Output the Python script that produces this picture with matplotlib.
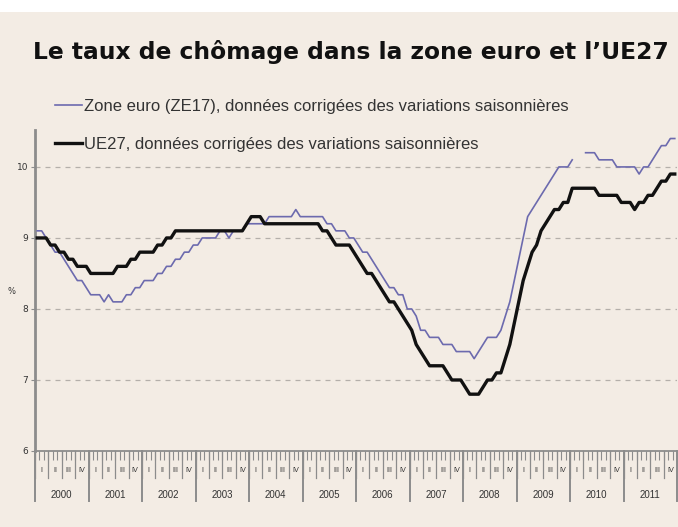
import numpy as np
import matplotlib
matplotlib.use("Agg")
import matplotlib.pyplot as plt
from matplotlib.patches import Rectangle
from matplotlib.lines import Line2D

# ---------------- data ----------------
years = [2000, 2001, 2002, 2003, 2004, 2005, 2006, 2007, 2008, 2009, 2010, 2011]
quarters = ["I", "II", "III", "IV"]
y_ticks = [6, 7, 8, 9, 10]

ue27 = [
    9.0, 9.0, 9.0, 8.9, 8.9, 8.8, 8.8, 8.7, 8.7, 8.6, 8.6, 8.6,   # 2000
    8.5, 8.5, 8.5, 8.5, 8.5, 8.5, 8.6, 8.6, 8.6, 8.7, 8.7, 8.8,   # 2001
    8.8, 8.8, 8.8, 8.9, 8.9, 9.0, 9.0, 9.1, 9.1, 9.1, 9.1, 9.1,   # 2002
    9.1, 9.1, 9.1, 9.1, 9.1, 9.1, 9.1, 9.1, 9.1, 9.1, 9.1, 9.2,   # 2003
    9.3, 9.3, 9.3, 9.2, 9.2, 9.2, 9.2, 9.2, 9.2, 9.2, 9.2, 9.2,   # 2004
    9.2, 9.2, 9.2, 9.2, 9.1, 9.1, 9.0, 8.9, 8.9, 8.9, 8.9, 8.8,   # 2005
    8.7, 8.6, 8.5, 8.5, 8.4, 8.3, 8.2, 8.1, 8.1, 8.0, 7.9, 7.8,   # 2006
    7.7, 7.5, 7.4, 7.3, 7.2, 7.2, 7.2, 7.2, 7.1, 7.0, 7.0, 7.0,   # 2007
    6.9, 6.8, 6.8, 6.8, 6.9, 7.0, 7.0, 7.1, 7.1, 7.3, 7.5, 7.8,   # 2008
    8.1, 8.4, 8.6, 8.8, 8.9, 9.1, 9.2, 9.3, 9.4, 9.4, 9.5, 9.5,   # 2009
    9.7, 9.7, 9.7, 9.7, 9.7, 9.7, 9.6, 9.6, 9.6, 9.6, 9.6, 9.5,   # 2010
    9.5, 9.5, 9.4, 9.5, 9.5, 9.6, 9.6, 9.7, 9.8, 9.8, 9.9, 9.9,   # 2011
]

ze17 = [
    9.1, 9.1, 9.0, 8.9, 8.8, 8.8, 8.7, 8.6, 8.5, 8.4, 8.4, 8.3,   # 2000
    8.2, 8.2, 8.2, 8.1, 8.2, 8.1, 8.1, 8.1, 8.2, 8.2, 8.3, 8.3,   # 2001
    8.4, 8.4, 8.4, 8.5, 8.5, 8.6, 8.6, 8.7, 8.7, 8.8, 8.8, 8.9,   # 2002
    8.9, 9.0, 9.0, 9.0, 9.0, 9.1, 9.1, 9.0, 9.1, 9.1, 9.1, 9.2,   # 2003
    9.2, 9.2, 9.2, 9.2, 9.3, 9.3, 9.3, 9.3, 9.3, 9.3, 9.4, 9.3,   # 2004
    9.3, 9.3, 9.3, 9.3, 9.3, 9.2, 9.2, 9.1, 9.1, 9.1, 9.0, 9.0,   # 2005
    8.9, 8.8, 8.8, 8.7, 8.6, 8.5, 8.4, 8.3, 8.3, 8.2, 8.2, 8.0,   # 2006
    8.0, 7.9, 7.7, 7.7, 7.6, 7.6, 7.6, 7.5, 7.5, 7.5, 7.4, 7.4,   # 2007
    7.4, 7.4, 7.3, 7.4, 7.5, 7.6, 7.6, 7.6, 7.7, 7.9, 8.1, 8.4,   # 2008
    8.7, 9.0, 9.3, 9.4, 9.5, 9.6, 9.7, 9.8, 9.9, 10.0, 10.0, 10.0,  # 2009
    10.1, np.nan, np.nan, 10.2, 10.2, 10.2, 10.1, 10.1, 10.1, 10.1, 10.0, 10.0,  # 2010
    10.0, 10.0, 10.0, 9.9, 10.0, 10.0, 10.1, 10.2, 10.3, 10.3, 10.4, 10.4,  # 2011
]

label_ze = "Zone euro (ZE17), données corrigées des variations saisonnières"
label_ue = "UE27, données corrigées des variations saisonnières"
title = "Le taux de chômage dans la zone euro et l\u2019UE27"

# ---------------- figure ----------------
W, H = 678, 527
BG = "#f3ece4"
GREY = "#8c8c8c"
TXT = "#333333"

fig = plt.figure(figsize=(W / 100, H / 100), dpi=100)
fig.patch.set_facecolor("white")
fig.add_artist(Rectangle((0, 0), 1, 1 - 12 / H, transform=fig.transFigure,
                         facecolor=BG, edgecolor="none", zorder=-10))

ax_left, ax_right, ax_top, ax_bot = 35, 677, 130, 451
ax = fig.add_axes([ax_left / W, 1 - ax_bot / H, (ax_right - ax_left) / W, (ax_bot - ax_top) / H])
ax.set_facecolor("none")

n = len(ue27)
x = np.arange(n) + 0.5
ax.plot(x, ze17, color="#6c6aae", lw=1.2, zorder=3)
ax.plot(x, ue27, color="#111111", lw=2.4, zorder=4)

ax.set_xlim(0, n)
ax.set_ylim(6, 10.52)

# grid
for v in y_ticks[1:]:
    ax.axhline(v, color="#b4afaa", lw=0.9, ls=(0, (4, 4)), zorder=1)

for s in ["top", "right"]:
    ax.spines[s].set_visible(False)
ax.spines["left"].set_color(GREY)
ax.spines["left"].set_linewidth(2)
ax.spines["bottom"].set_color(GREY)
ax.spines["bottom"].set_linewidth(1.3)

ax.set_yticks(y_ticks)
ax.set_yticklabels([str(v) for v in y_ticks])
ax.tick_params(axis="y", length=3, width=0.8, color=GREY, labelsize=6.5,
               labelcolor=TXT, pad=2)

# monthly minor ticks on x
ax.set_xticks(np.arange(0, n + 1, 1), minor=True)
ax.set_xticks([])
ax.tick_params(axis="x", which="minor", length=6.5, width=0.8, color=GREY)

# quarter and year separators below the axis
axh = ax_bot - ax_top
trans = ax.get_xaxis_transform()
for q in range(0, n + 1, 3):
    ax.plot([q, q], [0, -27 / axh], transform=trans, color=GREY, lw=0.9, clip_on=False)
for yi in range(len(years) + 1):
    xx = yi * 12
    ax.plot([xx, xx], [0, -50 / axh], transform=trans, color=GREY, lw=1.4, clip_on=False)

for yi, yr in enumerate(years):
    for qi, ql in enumerate(quarters):
        ax.text(yi * 12 + qi * 3 + 1.5, -19 / axh, ql, transform=trans,
                ha="center", va="center", fontsize=5.2, color=TXT,
                family="Liberation Sans")
    ax.text(yi * 12 + 6, -44 / axh, str(yr), transform=trans, ha="center",
            va="center", fontsize=7, color=TXT, family="Liberation Sans")

# % label
fig.text(12 / W, 1 - 292 / H, "%", fontsize=6, color=TXT, ha="center", va="center")

# title
fig.text(351 / W, 1 - 52 / H, title, fontsize=16.8, fontweight="bold",
         ha="center", va="center", color="#111111", family="DejaVu Sans")

# legend
handles = [Line2D([], [], color="#6c6aae", lw=1.2),
           Line2D([], [], color="#111111", lw=2.4)]
fig.legend(handles, [label_ze, label_ue], loc="upper left",
           bbox_to_anchor=(55 / W, 1 - 99 / H), frameon=False,
           prop={"family": "Liberation Sans", "size": 12},
           handlelength=1.62, handletextpad=0.12, labelspacing=1.35,
           borderaxespad=0, borderpad=0, labelcolor=TXT)

fig.savefig("out.png", dpi=100, facecolor=fig.get_facecolor())
